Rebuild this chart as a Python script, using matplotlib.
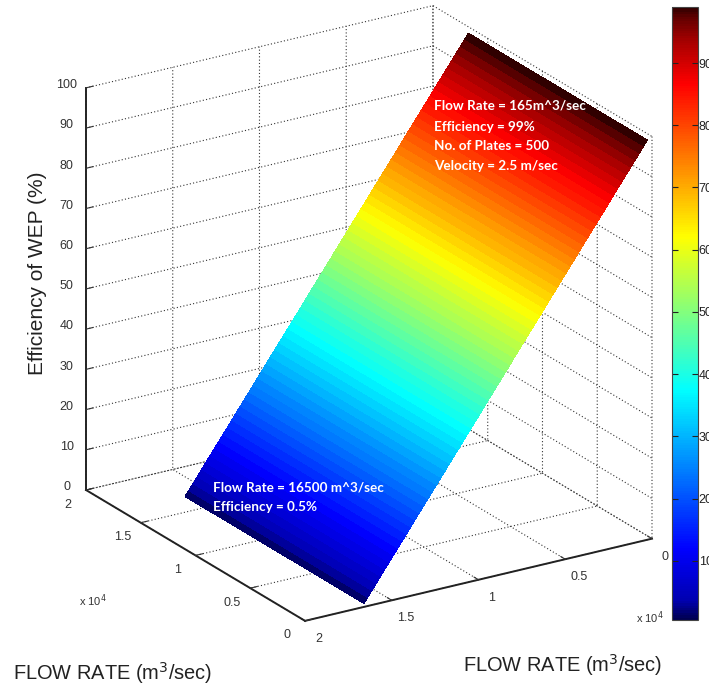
import numpy as np
import matplotlib
matplotlib.use("Agg")
import matplotlib.pyplot as plt
from matplotlib import cm
from matplotlib.colors import Normalize, LinearSegmentedColormap
from matplotlib.text import Text
from matplotlib.transforms import ScaledTranslation
from mpl_toolkits.mplot3d import proj3d

plt.rcParams['font.family'] = ['Liberation Sans', 'DejaVu Sans']

# values
flow_rate = [165, 410, 660, 910, 1160, 1410, 1660, 1910, 2150, 2400, 2650, 2900,
             3150, 3400, 3650, 3900, 4140, 4390, 4640, 4890, 5140, 5390, 5640, 5890,
             6130, 6380, 6630, 6880, 7130, 7380, 7630, 7880, 8120, 8370, 8620, 8870,
             9120, 9370, 9620, 9860, 10110, 10360, 10610, 10860, 11110, 11360, 11610, 11850,
             12100, 12350, 12600, 12850, 13100, 13350, 13600, 13840, 14090, 14340, 14590, 14840,
             15090, 15340, 15580, 15830, 16080, 16330, 16500]
efficiency = [99, 97.5, 96, 94.5, 93, 91.5, 90, 88.5, 87, 85.5, 84, 82.5,
              81, 79.5, 78, 76.5, 75, 73.5, 72, 70.5, 69, 67.5, 66, 64.5,
              63, 61.5, 60, 58.5, 57, 55.5, 54, 52.5, 51, 49.5, 48, 46.5,
              45, 43.5, 42, 40.5, 39, 37.5, 36, 34.5, 33, 31.5, 30, 28.5,
              27, 25.5, 24, 22.5, 21, 19.5, 18, 16.5, 15, 13.5, 12, 10.5,
              9, 7.5, 6, 4.5, 3, 1.5, 0.5]
flow_rate_2 = [165, 16500]

x_ticks = [0, 5000, 10000, 15000, 20000]
flow_labels = ['0', '0.5', '1', '1.5', '2']
z_ticks = [0, 10, 20, 30, 40, 50, 60, 70, 80, 90, 100]
cbar_ticks = [10, 20, 30, 40, 50, 60, 70, 80, 90]

W, H = 709, 688
fig = plt.figure(figsize=(W / 100, H / 100), dpi=100)
l, b, s = 20.0, 20.0, 600.0
ax = fig.add_axes([l / W, b / H, s / W, s / H], projection='3d', proj_type='ortho')

X, Y = np.meshgrid(flow_rate, flow_rate_2)
Z = np.array([efficiency, efficiency])
norm = Normalize(0.5, 99)
# jet, but the two ends go darker than matplotlib's one
cmap = LinearSegmentedColormap.from_list('jet_dark', [
    (0, '#000050'), (0.03, '#0000b0'), (0.115, '#0000ff'), (0.375, '#00ffff'),
    (0.625, '#ffff00'), (0.875, '#ff0000'), (0.95, '#a00000'), (0.985, '#600000'), (1, '#300000')], N=256)
ax.plot_surface(X, Y, Z, rstride=1, cstride=1, facecolors=cmap(norm(Z)), shade=False,
                antialiased=False, linewidth=0)

ax.set_xlim(0, 20000)
ax.set_ylim(20000, 0)
ax.set_zlim(0, 100)
ax.set_box_aspect((410, 411, 434))
ax.view_init(elev=22.1, azim=57.8)

ax.set_xticks(x_ticks)
ax.set_xticklabels(flow_labels)
ax.set_yticks(x_ticks)
ax.set_yticklabels(flow_labels)
ax.set_zticks(z_ticks)
ax.set_zticklabels([str(v) for v in z_ticks])

for a in (ax.xaxis, ax.yaxis, ax.zaxis):
    a.set_pane_color((1, 1, 1, 0))
    a.pane.set_edgecolor((1, 1, 1, 0))
    a._axinfo['grid'].update(color='#333333', linestyle=(0, (1, 2)), linewidth=0.8)
    a._axinfo['tick'].update(inward_factor=0.0, outward_factor=0.25)
    a.line.set_color('#222222')
    a.line.set_linewidth(1.4)
ax.tick_params(labelsize=9, colors='#333333', pad=1)

# tick labels sit a bit off the direction mplot3d pushes them
# (mplot3d resets their transform at each draw so it has to be wrapped)
for labs, dx, dy in [(ax.get_xticklabels(), 6, 6), (ax.get_yticklabels(), -6, 8), (ax.get_zticklabels(), 0, 7)]:
    off = ScaledTranslation(dx / 100, dy / 100, fig.dpi_scale_trans)
    for lab in labs:
        lab.set_transform = lambda t, lab=lab, off=off: Text.set_transform(lab, t + off)

# put the 3d box on the same pixels as the reference
fig.canvas.draw()
cx, cy, _ = proj3d.proj_transform(np.array([20000., 0.]), np.array([20000., 0.]), np.array([0., 0.]), ax.get_proj())
px = ax.transData.transform(np.column_stack([cx, cy]))
k = (652 - 86) / (px[1, 0] - px[0, 0])
s2 = s * k
l2 = 86 - (px[0, 0] - l) * k
b2 = (H - 490) - (px[0, 1] - b) * k
ax.set_position([l2 / W, b2 / H, s2 / W, s2 / H])

# colorbar
cax = fig.add_axes([672 / W, (H - 620) / H, 26 / W, 613 / H])
fig.colorbar(cm.ScalarMappable(norm=norm, cmap=cmap), cax=cax)
cax.set_yticks(cbar_ticks)
cax.tick_params(direction='in', left=True, right=True, labelsize=9, length=4, pad=0.5, colors='#222222')
for sp in cax.spines.values():
    sp.set_linewidth(0.8)
    sp.set_color('#444444')

fig.text(38 / W, 1 - 273 / H, 'Efficiency of WEP (%)', rotation=90, fontsize=15, ha='center', va='center', color='#222222')
fig.text(13 / W, 1 - 680 / H, 'FLOW RATE (m$^3$/sec)', fontsize=14.4, color='#222222')
fig.text(463 / W, 1 - 672 / H, 'FLOW RATE (m$^3$/sec)', fontsize=14.4, color='#222222')
fig.text(79 / W, 1 - 606 / H, 'x 10$^4$', fontsize=8, color='#333333')
fig.text(636 / W, 1 - 623 / H, 'x 10$^4$', fontsize=8, color='#333333')

for y, t in zip([106, 127, 146, 166], ['Flow Rate = 165m^3/sec', 'Efficiency = 99%', 'No. of Plates = 500', 'Velocity = 2.5 m/sec']):
    fig.text(434 / W, 1 - y / H, t, color='white', fontsize=9.7, fontweight='bold', family='Lato', va='center')
for y, t in zip([487, 507], ['Flow Rate = 16500 m^3/sec', 'Efficiency = 0.5%']):
    fig.text(213 / W, 1 - y / H, t, color='white', fontsize=9.7, fontweight='bold', family='Lato', va='center')

fig.savefig('out.png', dpi=100)
